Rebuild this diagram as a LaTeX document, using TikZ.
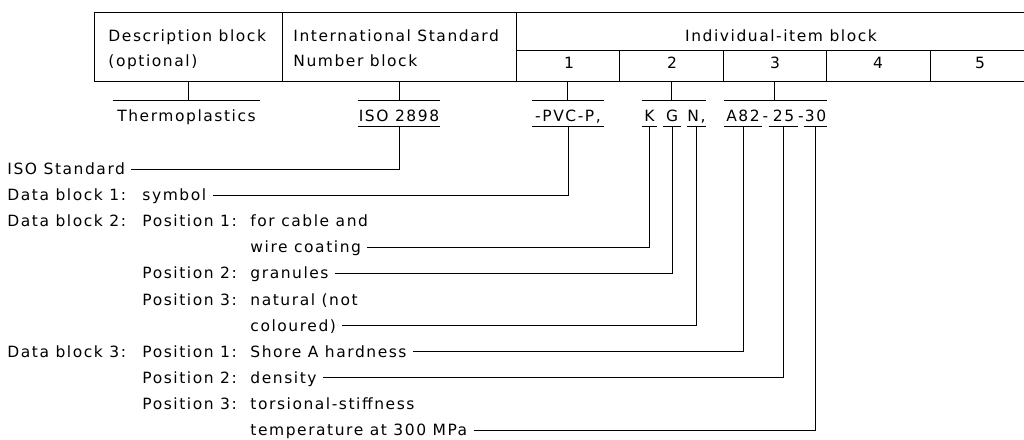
\documentclass[tikz,border=0pt]{standalone}
\usepackage{fontspec}
\setmainfont{DejaVu Sans}[LetterSpace=10]
\begin{document}
\begin{tikzpicture}[x=1pt,y=-1pt,line width=0.9pt,
  fnt/.style={font=\fontsize{15.5}{18}\selectfont},
  txt/.style={fnt,inner sep=0pt,text height=11pt,text depth=0pt},
  lbl/.style={txt,anchor=west},
  codebox/.style={fnt,inner sep=0pt,text height=20.5pt,text depth=4.5pt,minimum width=#1,anchor=base},
  cell/.style={draw,inner sep=0pt,minimum height=#1},
  lead/.style={shorten <=6pt}]
\useasboundingbox (0,0) rectangle (1024,439);
\clip (0,0) rectangle (1024,439);
% top block
\node[cell=68.3pt,minimum width=188pt] (desc) at (188,46.85) {};
\node[cell=68.3pt,minimum width=234pt] (isn) at (399,46.85) {};
\node[cell=38pt,minimum width=524pt] (head) at (778,31.7) {};
\node[cell=30.3pt,minimum width=103.5pt] (c1) at (567.75,65.85) {};
\node[cell=30.3pt,minimum width=103.5pt] (c2) at (671.25,65.85) {};
\node[cell=30.3pt,minimum width=103.5pt] (c3) at (774.75,65.85) {};
\node[cell=30.3pt,minimum width=103.5pt] (c4) at (878.25,65.85) {};
\node[cell=30.3pt,minimum width=103.5pt] (c5) at (981.75,65.85) {};
\node[lbl] (t1a) at (108,35.5) {Description block};
\node[lbl] (t1b) at (108,61) {(optional)};
\node[lbl] (t2a) at (293,35.5) {International Standard};
\node[lbl] (t2b) at (293,61) {Number block};
\node[txt] (t3) at (781,36) {Individual-item block};
\node[txt] (n1) at (569,62.5) {1};
\node[txt] (n2) at (672,62.5) {2};
\node[txt] (n3) at (775,62.5) {3};
\node[txt] (n4) at (878,62.5) {4};
\node[txt] (n5) at (980,62.5) {5};
% code line
\node[codebox=147pt] (thermo) at (186.5,121.5) {Thermoplastics};
\node[codebox=82pt] (iso) at (399,121.5) {ISO 2898};
\node[codebox=72pt] (pvc) at (568,121.5) {-PVC-P,};
\node[codebox=15pt] (K) at (649.5,121.5) {K};
\node[codebox=18pt] (G) at (672,121.5) {G};
\node[codebox=17pt] (N) at (696.5,121.5) {N,};
\node[codebox=38pt] (dA) at (743,121.5) {A82};
\node[codebox=5pt] (h1) at (765.5,121.5) {-};
\node[codebox=29pt] (d25) at (783.5,121.5) {25};
\node[codebox=5pt] (h2) at (801,121.5) {-};
\node[codebox=23pt] (d30) at (815.5,121.5) {30};
\draw (thermo.north west) -- (thermo.north east);
\draw (iso.north west) -- (iso.north east);
\draw (iso.south west) -- (iso.south east);
\draw (pvc.north west) -- (pvc.north east);
\draw (pvc.south west) -- (pvc.south east);
\draw (K.north west) -- (N.north east);
\draw (K.south west) -- (K.south east);
\draw (G.south west) -- (G.south east);
\draw (N.south west) -- (N.south east);
\draw (dA.north west) -- (d30.north east);
\draw (dA.south west) -- (dA.south east);
\draw (d25.south west) -- (d25.south east);
\draw (d30.south west) -- (d30.south east);
% connectors from the block
\draw (desc.south) -- (desc.south |- thermo.north);
\draw (isn.south) -- (isn.south |- iso.north);
\draw (c1.south) -- (c1.south |- pvc.north);
\draw (c2.south) -- (c2.south |- K.north);
\draw (c3.south) -- (c3.south |- dA.north);
% legend
\node[lbl] (isostd) at (7,169) {ISO Standard};
\draw[lead] (isostd.east) -| (iso.south);
\node[lbl] (db1) at (7,195.1) {Data block 1:};
\node[lbl] (sym) at (142,195.1) {symbol};
\draw[lead] (sym.east) -| (pvc.south);
\node[lbl] (db2) at (7,221.2) {Data block 2:};
\node[lbl] (p21) at (142,221.2) {Position 1:};
\node[lbl] (p21a) at (250,221.2) {for cable and};
\node[lbl] (p21b) at (250,247.3) {wire coating};
\draw[lead] (p21b.east) -| (K.south);
\node[lbl] (p22) at (142,273.4) {Position 2:};
\node[lbl] (p22a) at (250,273.4) {granules};
\draw[lead] (p22a.east) -| (G.south);
\node[lbl] (p23) at (142,299.5) {Position 3:};
\node[lbl] (p23a) at (250,299.5) {natural (not};
\node[lbl] (p23b) at (250,325.6) {coloured)};
\draw[lead] (p23b.east) -| (N.south);
\node[lbl] (db3) at (7,351.7) {Data block 3:};
\node[lbl] (p31) at (142,351.7) {Position 1:};
\node[lbl] (p31a) at (250,351.7) {Shore A hardness};
\draw[lead] (p31a.east) -| (dA.south);
\node[lbl] (p32) at (142,377.8) {Position 2:};
\node[lbl] (p32a) at (250,377.8) {density};
\draw[lead] (p32a.east) -| (d25.south);
\node[lbl] (p33) at (142,403.9) {Position 3:};
\node[lbl] (p33a) at (250,403.9) {torsional-stiffness};
\node[lbl] (p33b) at (250,430) {temperature at 300 MPa};
\draw[lead] (p33b.east) -| (d30.south);
\end{tikzpicture}
\end{document}
